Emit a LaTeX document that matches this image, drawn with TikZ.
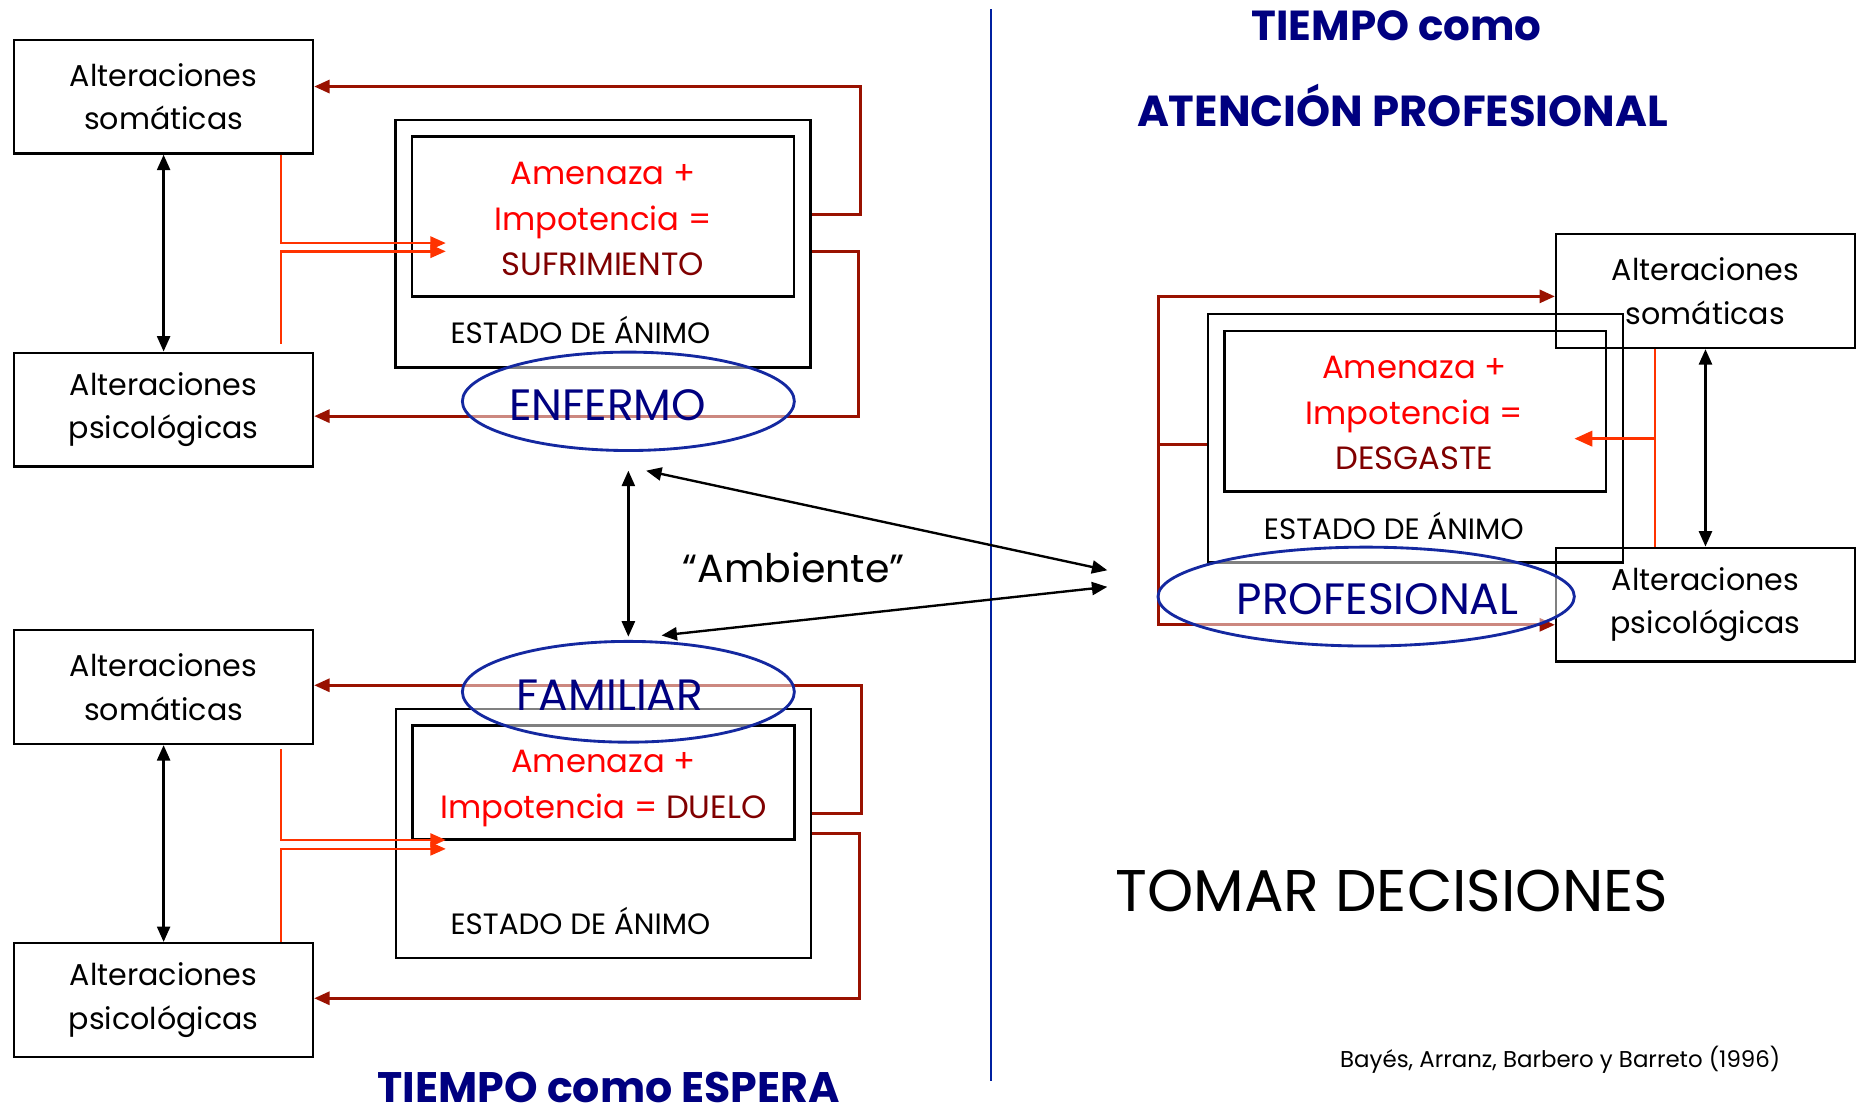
\documentclass[tikz,border=0pt]{standalone}
\usepackage{fontspec}
\setmainfont{Poppins}
\usetikzlibrary{arrows.meta,shapes.geometric}
\definecolor{dred}{RGB}{153,17,0}
\definecolor{ored}{RGB}{255,51,0}
\definecolor{tred}{RGB}{255,0,0}
\definecolor{wine}{RGB}{128,0,0}
\definecolor{navy}{RGB}{0,0,128}
\definecolor{eblue}{RGB}{20,40,160}
\definecolor{divblue}{RGB}{0,32,160}
\tikzset{
  altbox/.style={draw=black, line width=1pt, inner sep=0pt, align=center,
    minimum width=126pt, minimum height=48pt, font=\fontsize{12.7}{18.5}\selectfont},
  outerbox/.style={draw=black, line width=1pt, inner sep=0pt, minimum width=175pt},
  innerbox/.style={draw=black, line width=1pt, inner sep=0pt, minimum width=161pt},
  innertext/.style={align=center, inner sep=0pt, anchor=base, font=\fontsize{13.6}{19.2}\selectfont},
  estado/.style={font=\fontsize{12.4}{14}\selectfont, inner sep=0pt, anchor=base},
  ell/.style={ellipse, draw=eblue, line width=1.2pt, fill=white, fill opacity=0.5, inner sep=0pt},
  elltext/.style={text=navy, font=\fontsize{18.5}{20}\selectfont, inner sep=0pt, anchor=base},
  dl/.style={draw=dred, line width=1.25pt},
  dla/.style={dl, -{Triangle[length=6.5pt,width=5.5pt]}},
  rl/.style={draw=ored, line width=1pt},
  rla/.style={rl, -{Triangle[length=6.5pt,width=5.5pt]}},
  bla/.style={draw=black, line width=1pt, {Triangle[length=6.5pt,width=5.5pt]}-{Triangle[length=6.5pt,width=5.5pt]}},
  title/.style={text=navy, inner sep=0pt, anchor=base},
}
\begin{document}
\begin{tikzpicture}[x=0.5pt,y=-0.5pt]
\useasboundingbox (0,0) rectangle (1568,940);
\fill[white] (0,0) rectangle (1568,940);

% divider
\coordinate (d1) at (836,8);
\coordinate (d2) at (836,912);
\draw[draw=divblue, line width=1pt] (d1) -- (d2);

% ===== top-left group =====
\node[altbox] (A1) at (138,81.5) {Alteraciones\\som\'aticas};
\node[altbox] (P1) at (138,345.5) {Alteraciones\\psicol\'ogicas};
\node[outerbox, minimum height=104.5pt] (O1) at (508.5,205.5) {};
\node[innerbox, minimum height=67.5pt] (I1) at (508.5,182.5) {};
\node[innertext] (I1t) at (508.5,232.8)
  {\textcolor{tred}{Amenaza +}\\\textcolor{tred}{Impotencia =}\\\textcolor{wine}{SUFRIMIENTO}};
\node[estado] (S1) at (489.5,290) {ESTADO DE \'ANIMO};
\draw[bla] (A1.south) -- (P1.north);
\coordinate (r1) at (726,73);
\coordinate (r2) at (724,351);
\draw[dla] (O1.east |- 0,181) -| (r1) -- (A1.east |- r1);
\draw[dla] (O1.east |- 0,212) -| (r2) -- (P1.east |- r2);
\coordinate (q1) at (376,205);
\coordinate (q2) at (376,212);
\coordinate (s2) at (237,290);
\draw[rla] (A1.south -| s2) |- (q1);
\draw[rla] (s2) |- (q2);

% ===== bottom-left group =====
\node[altbox] (A2) at (138,579.5) {Alteraciones\\som\'aticas};
\node[altbox] (P2) at (138,843.5) {Alteraciones\\psicol\'ogicas};
\node[outerbox, minimum height=105pt] (O2) at (509,703) {};
\node[innerbox, minimum height=48pt] (I2) at (509,660) {};
\node[innertext] (I2t) at (509,690.2)
  {\textcolor{tred}{Amenaza +}\\\textcolor{tred}{Impotencia =} \textcolor{wine}{DUELO}};
\node[estado] (S2) at (489.5,788) {ESTADO DE \'ANIMO};
\draw[bla] (A2.south) -- (P2.north);
\coordinate (r3) at (727,578);
\coordinate (r4) at (725,842);
\draw[dla] (O2.east |- 0,686) -| (r3) -- (A2.east |- r3);
\draw[dla] (O2.east |- 0,703) -| (r4) -- (P2.east |- r4);
\coordinate (q3) at (376,708.5);
\coordinate (q4) at (376,716);
\coordinate (s3) at (237,632);
\draw[rla] (s3) |- (q3);
\draw[rla] (P2.north -| s3) |- (q4);

% ===== right group =====
\node[altbox] (A3) at (1438.5,245.5) {Alteraciones\\som\'aticas};
\node[altbox] (P3) at (1438.5,510) {Alteraciones\\psicol\'ogicas};
\node[outerbox, minimum height=104.8pt] (O3) at (1194,369.8) {};
\node[innerbox, minimum height=67.8pt] (I3) at (1193.7,346.9) {};
\node[innertext] (I3t) at (1193,396.4)
  {\textcolor{tred}{Amenaza +}\\\textcolor{tred}{Impotencia =}\\\textcolor{wine}{DESGASTE}};
\node[estado] (S3) at (1175.6,455) {ESTADO DE \'ANIMO};
\draw[bla] (A3.south) -- (P3.north);
\coordinate (r5) at (977,375);
\draw[dl] (O3.west |- r5) -- (r5);
\draw[dla] (r5) |- (A3.west |- 0,250);
\draw[dla] (r5) |- (P3.west |- 0,527);
\coordinate (s5) at (1396,370);
\coordinate (q5) at (1328,370);
\draw[rl] (A3.south -| s5) -- (P3.north -| s5);
\draw[rl, -{Triangle[length=7.5pt,width=6.5pt]}] (s5) -- (q5);

% ===== ellipses =====
\node[ell, minimum width=140pt, minimum height=41.5pt] (E1) at (530,338.5) {};
\node[elltext] (T1) at (512.6,354.8) {ENFERMO};
\node[ell, minimum width=140pt, minimum height=42.5pt] (E2) at (530,583.5) {};
\node[elltext] (T2) at (514.5,599.4) {FAMILIAR};
\node[ell, minimum width=175.6pt, minimum height=41.7pt] (E3) at (1152.3,503.2) {};
\node[elltext] (T3) at (1162,518.7) {PROFESIONAL};

% ===== ambiente arrows =====
\coordinate (m1) at (530,397);
\coordinate (m2) at (530,537);
\draw[bla] (m1) -- (m2);
\coordinate (n1) at (545,397);
\coordinate (n2) at (934,481);
\coordinate (n3) at (558,536);
\coordinate (n4) at (934,495);
\draw[bla] (n1) -- (n2);
\draw[bla] (n3) -- (n4);
\node[font=\fontsize{16.6}{20}\selectfont, inner sep=0pt, anchor=base] (amb) at (669.5,491.5) {“Ambiente”};

% ===== titles =====
\node[title, font=\bfseries\fontsize{17.7}{20}\selectfont] (t1) at (1178,34.3) {TIEMPO como};
\node[title, font=\bfseries\fontsize{18.3}{20}\selectfont] (t2) at (1183,107) {ATENCI\'ON PROFESIONAL};
\node[title, font=\bfseries\fontsize{18}{20}\selectfont] (t3) at (513.5,930) {TIEMPO como ESPERA};
\node[font=\fontsize{24.8}{28}\selectfont, inner sep=0pt, anchor=base] (td) at (1174,769) {TOMAR DECISIONES};
\node[font=\fontsize{9.65}{12}\selectfont, inner sep=0pt, anchor=base] (cite) at (1316,900) {Bay\'es, Arranz, Barbero y Barreto (1996)};
\end{tikzpicture}
\end{document}
